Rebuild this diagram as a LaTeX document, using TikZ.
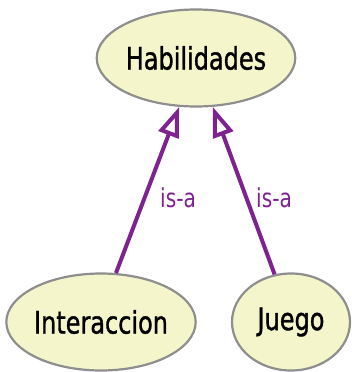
\documentclass[tikz,border=0pt]{standalone}
\usepackage{fontspec}
\usepackage{graphicx}
\setmainfont{DejaVu Sans Condensed}
\newfontfamily\conceptfont[FakeBold=1.2]{DejaVu Sans Condensed}
\usetikzlibrary{shapes.geometric,arrows.meta}
\definecolor{nodefill}{HTML}{F5F5CB}
\definecolor{nodeline}{HTML}{8E8E8E}
\definecolor{isapurple}{HTML}{7E2290}
\tikzset{
  concept/.style={ellipse, draw=nodeline, line width=2.2pt, fill=nodefill, inner sep=0pt, font=\conceptfont\fontsize{31}{31}\selectfont},
  isa/.style={draw=isapurple, line width=4pt, -{Triangle[open, length=30pt, width=21pt, line width=4pt]}},
  isalabel/.style={text=isapurple, inner sep=0pt, font=\fontsize{26}{26}\selectfont}
}
\begin{document}
\begin{tikzpicture}[x=1pt,y=1pt]
\useasboundingbox (0,0) rectangle (352,-372);
\node[concept, minimum width=193pt, minimum height=97pt] (hab) at (196,-58) {\scalebox{0.86}[1]{Habilidades}};
\node[concept, minimum width=188pt, minimum height=97pt] (inter) at (101,-322) {\scalebox{0.86}[1]{Interaccion}};
\node[concept, minimum width=118pt, minimum height=97pt] (juego) at (291,-322) {\scalebox{0.86}[1]{Juego}};
\draw[isa] (inter.73) -- (hab.251);
\draw[isa] (juego.109) -- (hab.289);
\node[isalabel] (l1) at (178,-198) {\scalebox{0.86}[1]{is-a}};
\node[isalabel] (l2) at (274,-198) {\scalebox{0.86}[1]{is-a}};
\end{tikzpicture}
\end{document}
